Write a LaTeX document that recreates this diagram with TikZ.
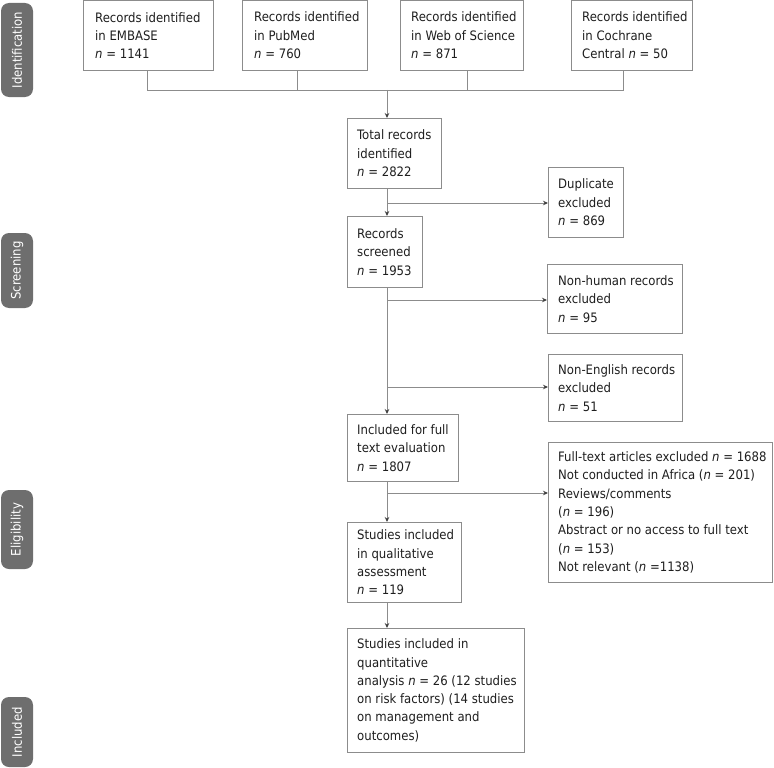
\documentclass[tikz,border=0pt]{standalone}
\usepackage{fontspec}
\setmainfont{DejaVu Sans Condensed}
\usetikzlibrary{arrows.meta}
\definecolor{boxgray}{HTML}{8C8C8C}
\definecolor{linegray}{HTML}{8C8C8C}
\definecolor{tabgray}{HTML}{6E6E6E}
\definecolor{txt}{HTML}{1E1E1E}
\begin{document}
\begin{tikzpicture}[x=1pt,y=-1pt,
  box/.style={draw=boxgray,line width=0.9pt,rectangle,anchor=north west,inner sep=0pt},
  lbl/.style={anchor=west,align=left,inner sep=0pt,text=txt,font=\fontsize{13}{18.3}\selectfont},
  conn/.style={draw=linegray,line width=0.9pt},
  arr/.style={conn,-{Stealth[length=5pt,width=4.5pt,color=black!75]}},
  tab/.style={fill=tabgray,rounded corners=8pt,text=white,rotate=90,inner sep=0pt,minimum height=32pt,font=\fontsize{13}{15}\selectfont}]
\useasboundingbox (0,0) rectangle (774,768);

% side tabs
\node[tab,minimum width=94pt] (tident) at (17,50) {Identification};
\node[tab,minimum width=75pt] (tscreen) at (17,270.5) {Screening};
\node[tab,minimum width=79pt] (telig) at (17,529.5) {Eligibility};
\node[tab,minimum width=70pt] (tincl) at (17,732) {Included};

% top boxes
\node[box,minimum width=130pt,minimum height=70pt] (embase) at (83,0) {};
\node[lbl] (embaset) at ([xshift=12pt]embase.west) {Records identified\\in EMBASE\\\textit{n} = 1141};
\node[box,minimum width=125pt,minimum height=70pt] (pubmed) at (242,0) {};
\node[lbl] (pubmedt) at ([xshift=12pt]pubmed.west) {Records identified\\in PubMed\\\textit{n} = 760};
\node[box,minimum width=123pt,minimum height=70pt] (wos) at (400,0) {};
\node[lbl] (wost) at ([xshift=11pt]wos.west) {Records identified\\in Web of Science\\\textit{n} = 871};
\node[box,minimum width=121pt,minimum height=70pt] (coch) at (571,0) {};
\node[lbl] (cocht) at ([xshift=11pt]coch.west) {Records identified\\in Cochrane\\Central \textit{n} = 50};

% main column
\node[box,minimum width=94pt,minimum height=70pt] (total) at (347,118) {};
\node[lbl] (totalt) at ([xshift=10pt]total.west) {Total records\\identified\\\textit{n} = 2822};
\node[box,minimum width=75pt,minimum height=71pt] (scr) at (347,216) {};
\node[lbl] (scrt) at ([xshift=10pt]scr.west) {Records\\screened\\\textit{n} = 1953};
\node[box,minimum width=111pt,minimum height=67pt] (full) at (347,414) {};
\node[lbl] (fullt) at ([xshift=10pt]full.west) {Included for full\\text evaluation\\\textit{n} = 1807};
\node[box,minimum width=114pt,minimum height=80pt] (qual) at (347,522) {};
\node[lbl] (qualt) at ([xshift=10pt]qual.west) {Studies included\\in qualitative\\assessment\\\textit{n} = 119};
\node[box,minimum width=177pt,minimum height=124pt] (quant) at (347,628) {};
\node[lbl] (quantt) at ([xshift=10pt]quant.west) {Studies included in\\quantitative\\analysis \textit{n} = 26 (12 studies\\on risk factors) (14 studies\\on management and\\outcomes)};

% right column
\node[box,minimum width=75pt,minimum height=70pt] (dup) at (548,167) {};
\node[lbl] (dupt) at ([xshift=10pt]dup.west) {Duplicate\\excluded\\\textit{n} = 869};
\node[box,minimum width=135pt,minimum height=69pt] (nonh) at (547,264) {};
\node[lbl] (nonht) at ([xshift=11pt]nonh.west) {Non-human records\\excluded\\\textit{n} = 95};
\node[box,minimum width=134pt,minimum height=67pt] (none) at (548,354) {};
\node[lbl] (nonet) at ([xshift=10pt]none.west) {Non-English records\\excluded\\\textit{n} = 51};
\node[box,minimum width=224pt,minimum height=140pt] (fte) at (548,442) {};
\node[lbl] (ftet) at ([xshift=10pt]fte.west) {Full-text articles excluded \textit{n} = 1688\\Not conducted in Africa (\textit{n} = 201)\\Reviews/comments\\(\textit{n} = 196)\\Abstract or no access to full text\\(\textit{n} = 153)\\Not relevant (\textit{n} =1138)};

% bracket
\coordinate (j) at (387,90);
\coordinate (m) at (387,0);
\draw[conn] ([xshift=-1pt]embase.south) -- ([xshift=-1pt]embase.south |- j) -- ([xshift=-8.5pt]coch.south |- j) -- ([xshift=-8.5pt]coch.south);
\draw[conn] ([xshift=-7.5pt]pubmed.south) -- ([xshift=-7.5pt]pubmed.south |- j);
\draw[conn] ([xshift=5.5pt]wos.south) -- ([xshift=5.5pt]wos.south |- j);
\draw[arr] (j) -- (j |- total.north);

% main flow
\draw[arr] (m |- total.south) -- (m |- scr.north);
\draw[arr] (m |- scr.south) -- (m |- full.north);
\draw[arr] (m |- full.south) -- (m |- qual.north);
\draw[arr] (m |- qual.south) -- (m |- quant.north);

% side arrows
\coordinate (s1) at (387,203);
\coordinate (s2) at (387,300);
\coordinate (s3) at (387,387);
\coordinate (s4) at (387,493);
\draw[arr] (s1) -- (s1 -| dup.west);
\draw[arr] (s2) -- (s2 -| nonh.west);
\draw[arr] (s3) -- (s3 -| none.west);
\draw[arr] (s4) -- (s4 -| fte.west);
\end{tikzpicture}
\end{document}
